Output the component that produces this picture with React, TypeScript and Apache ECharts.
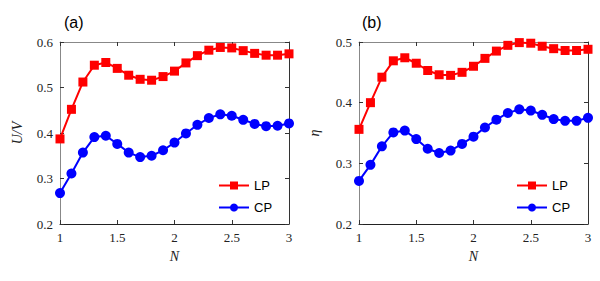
import React, { useEffect, useRef } from "react";
import * as echarts from "echarts";

const nValues = [1.0, 1.1, 1.2, 1.3, 1.4, 1.5, 1.6, 1.7, 1.8, 1.9, 2.0, 2.1, 2.2, 2.3, 2.4, 2.5, 2.6, 2.7, 2.8, 2.9, 3.0];

const uvLP = [0.387, 0.452, 0.512, 0.549, 0.555, 0.542, 0.527, 0.518, 0.516, 0.524, 0.536, 0.554, 0.570, 0.582, 0.588, 0.587, 0.581, 0.575, 0.571, 0.571, 0.574];
const uvCP = [0.268, 0.311, 0.357, 0.391, 0.394, 0.376, 0.357, 0.347, 0.350, 0.362, 0.379, 0.399, 0.418, 0.433, 0.441, 0.438, 0.429, 0.420, 0.415, 0.416, 0.421];

const etaLP = [0.356, 0.400, 0.442, 0.469, 0.474, 0.465, 0.453, 0.446, 0.445, 0.450, 0.460, 0.473, 0.485, 0.4945, 0.499, 0.498, 0.493, 0.489, 0.486, 0.486, 0.488];
const etaCP = [0.271, 0.2975, 0.328, 0.351, 0.354, 0.340, 0.324, 0.317, 0.321, 0.332, 0.344, 0.359, 0.372, 0.383, 0.389, 0.387, 0.380, 0.373, 0.370, 0.370, 0.375];

const pair = (ys: number[]) => nValues.map((x, i) => [x, ys[i]]);

export default function App() {
  const ref = useRef<HTMLDivElement>(null);
  useEffect(() => {
    if (!ref.current) return;
    const chart = echarts.init(ref.current, null, { renderer: "svg" });
    const serif = "Liberation Serif";
    const labelStyle = { fontFamily: serif, fontSize: 13, color: "#222" };
    const xBase = (gridIndex: number) => ({
      type: "value",
      gridIndex,
      min: 1,
      max: 3,
      interval: 0.5,
      splitLine: { show: false },
    });
    const yBase = (gridIndex: number, min: number, max: number) => ({
      type: "value",
      gridIndex,
      min,
      max,
      interval: 0.1,
      splitLine: { show: false },
    });
    const tick = { show: true, inside: true, length: 4, lineStyle: { color: "#333", width: 1 } };
    const mkX = (g: number) => [
      {
        ...xBase(g),
        position: "bottom",
        name: "N",
        nameLocation: "middle",
        nameGap: 25,
        nameTextStyle: { fontFamily: serif, fontStyle: "italic", fontSize: 14, color: "#222" },
        axisLine: { show: true, lineStyle: { color: "#222", width: 1 } },
        axisTick: tick,
        axisLabel: { ...labelStyle, margin: 7, formatter: (v: number) => String(v) },
      },
      {
        ...xBase(g),
        position: "top",
        axisLine: { show: true, lineStyle: { color: "#888", width: 1 } },
        axisTick: tick,
        axisLabel: { show: false },
      },
    ];
    const mkY = (g: number, min: number, max: number, name: string, gap: number) => [
      {
        ...yBase(g, min, max),
        position: "left",
        name,
        nameLocation: "middle",
        nameGap: gap,
        nameTextStyle: { fontFamily: serif, fontStyle: "italic", fontSize: 14, color: "#222" },
        axisLine: { show: true, lineStyle: { color: "#888", width: 1 } },
        axisTick: tick,
        axisLabel: { ...labelStyle, margin: 7, formatter: (v: number) => v.toFixed(1) },
      },
      {
        ...yBase(g, min, max),
        position: "right",
        axisLine: { show: true, lineStyle: { color: "#333", width: 1 } },
        axisTick: tick,
        axisLabel: { show: false },
      },
    ];
    const lineSeries = (name: string, data: number[], color: string, symbol: string, g: number) => ({
      type: "line",
      name,
      xAxisIndex: g * 2,
      yAxisIndex: g * 2,
      data: pair(data),
      symbol,
      symbolSize: symbol === "rect" ? 9 : 10,
      lineStyle: { color, width: 2 },
      itemStyle: { color },
      z: name === "LP" ? 3 : 2,
    });
    const legend = (left: number) => ({
      orient: "vertical",
      left,
      top: 174,
      itemWidth: 30,
      itemHeight: 10,
      itemGap: 9,
      textStyle: { fontFamily: "Liberation Sans", fontSize: 13, color: "#000" },
      data: ["LP", "CP"],
      selectedMode: false,
    });
    const titleStyle = { fontFamily: "Liberation Sans", fontSize: 16, fontWeight: "normal", color: "#000" };
    chart.setOption({
      animation: false,
      backgroundColor: "#fff",
      title: [
        { text: "(a)", left: 59, top: 9, textStyle: titleStyle },
        { text: "(b)", left: 357, top: 9, textStyle: titleStyle },
      ],
      grid: [
        { left: 60, top: 42, width: 229, height: 182 },
        { left: 359, top: 42, width: 229, height: 182 },
      ],
      legend: [legend(213), legend(511)],
      xAxis: [...mkX(0), ...mkX(1)],
      yAxis: [...mkY(0, 0.2, 0.6, "U/V", 36), ...mkY(1, 0.2, 0.5, "η", 38)],
      series: [
        lineSeries("LP", uvLP, "#ff0000", "rect", 0),
        lineSeries("CP", uvCP, "#0000ff", "circle", 0),
        lineSeries("LP", etaLP, "#ff0000", "rect", 1),
        lineSeries("CP", etaCP, "#0000ff", "circle", 1),
      ],
    });
    return () => chart.dispose();
  }, []);
  return <div ref={ref} style={{ position: "fixed", left: 0, top: 0, width: 600, height: 281 }} />;
}
